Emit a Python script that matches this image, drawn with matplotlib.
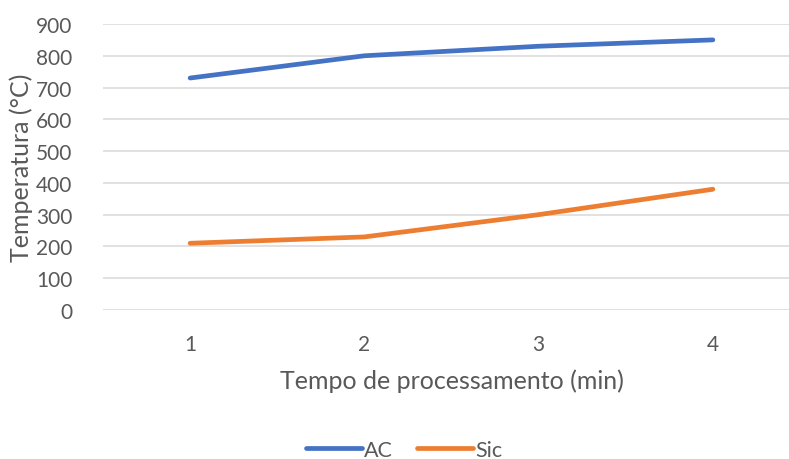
import matplotlib.pyplot as plt

# data
tempo = [1, 2, 3, 4]
ac = [730, 800, 830, 850]
sic = [210, 230, 300, 380]

plt.rcParams['font.family'] = ['Lato', 'DejaVu Sans']

fig = plt.figure(figsize=(7.89, 4.60), dpi=100)
# plot area in pixels: x 103..800, y 25..311 (top-down)
ax = fig.add_axes([103 / 789, 1 - 311 / 460, 697 / 789, 286 / 460])

ax.plot(tempo, ac, color='#4472C4', lw=3.4, solid_capstyle='round', label='AC')
ax.plot(tempo, sic, color='#ED7D31', lw=3.4, solid_capstyle='round', label='Sic')

ax.set_xlim(0.5, 4.5)
ax.set_ylim(0, 900)
ax.set_yticks(range(0, 901, 100))
ax.set_xticks(tempo)
ax.grid(axis='y', color='#d9d9d9', lw=1.1)
ax.set_axisbelow(True)
for s in ax.spines.values():
    s.set_visible(False)
ax.tick_params(length=0, labelsize=15, labelcolor='#595959')
ax.tick_params(axis='x', pad=17)
ax.tick_params(axis='y', pad=22)

ax.set_xlabel('Tempo de processamento (min)', fontsize=18, color='#595959')
ax.set_ylabel('Temperatura (°C)', fontsize=18, color='#595959')
ax.yaxis.set_label_coords((33 - 103) / 697, 0.5)
ax.xaxis.set_label_coords((452 - 103) / 697, -(369 - 311) / 286)

fig.legend(loc='center', bbox_to_anchor=(404 / 789, 1 - 451 / 460), ncol=2,
           frameon=False, fontsize=15.5, labelcolor='#595959', handlelength=2.6,
           handletextpad=0.1, columnspacing=1.1)

fig.savefig('out.png', dpi=100)
